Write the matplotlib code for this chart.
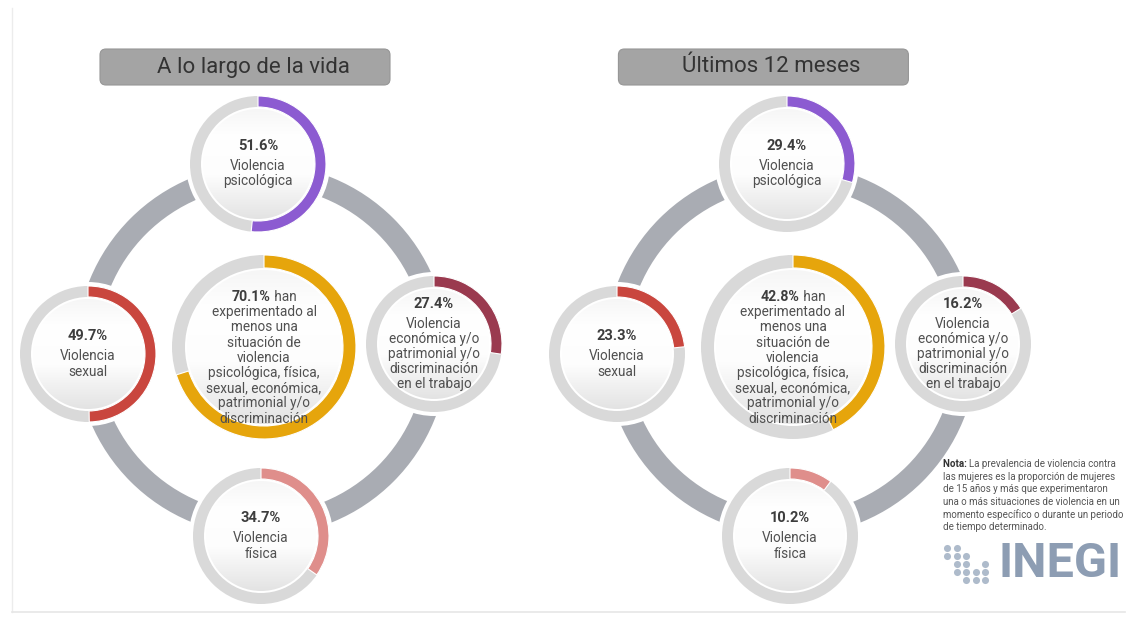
import numpy as np
import matplotlib.pyplot as plt
from matplotlib.patches import Wedge, Circle, FancyBboxPatch
from matplotlib.colors import LinearSegmentedColormap

plt.rcParams['font.family'] = ['Roboto', 'DejaVu Sans']

# datos
titulos = ["A lo largo de la vida", "Últimos 12 meses"]
categorias = ["Violencia\npsicológica", "Violencia\nsexual",
              "Violencia\neconómica y/o\npatrimonial y/o\ndiscriminación\nen el trabajo",
              "Violencia\nfísica"]
vida = [51.6, 49.7, 27.4, 34.7]
meses = [29.4, 23.3, 16.2, 10.2]
total_vida = 70.1
total_meses = 42.8
texto_total = ["experimentado al", "menos una", "situación de", "violencia",
               "psicológica, física,", "sexual, económica,", "patrimonial y/o",
               "discriminación"]
colores = ["#8c5bd1", "#c9463e", "#9a3a4f", "#df8e8b"]
color_total = "#e6a50c"
nota = ["La prevalencia de violencia contra",
        "las mujeres es la proporción de mujeres",
        "de 15 años y más que experimentaron",
        "una o más situaciones de violencia en un",
        "momento específico o durante un periodo",
        "de tiempo determinado."]

# posiciones (pixeles)
pos = [(258, 164), (88, 354), (434, 344), (261, 536)]
centro = (264, 347)
dx_panel = [0, 529]
r_chico, w_chico = 68, 11
r_grande, w_grande = 92, 13

fig = plt.figure(figsize=(11.3, 6.21), dpi=100)
ax = fig.add_axes([0, 0, 1, 1])
ax.set_xlim(0, 1130)
ax.set_ylim(621, 0)
ax.axis('off')

cmap_disco = LinearSegmentedColormap.from_list(
    'd', [(0, '#f6f6f6'), (0.25, '#ffffff'), (0.6, '#fdfdfd'), (1, '#e3e3e3')])
grad = np.linspace(0, 1, 256)[:, None]


def dona(cx, cy, r, w, pct, color):
    ax.add_patch(Circle((cx, cy), r + 4, fc='white', ec='none', zorder=3))
    ri = r - w - 2
    im = ax.imshow(grad, cmap=cmap_disco, extent=(cx - ri, cx + ri, cy + ri, cy - ri),
                   origin='upper', aspect='auto', zorder=4)
    im.set_clip_path(Circle((cx, cy), ri, transform=ax.transData))
    ax.add_patch(Wedge((cx, cy), r, 0, 360, width=w, fc='#d9d9d9', ec='none', zorder=5))
    ax.add_patch(Wedge((cx, cy), r, -90, -90 + 3.6 * pct, width=w, fc=color,
                       ec='white', lw=0.8, zorder=6))


renderer = fig.canvas.get_renderer()


def ancho(txt, **kw):
    t = ax.text(0, 0, txt, **kw)
    bb = t.get_window_extent(renderer)
    t.remove()
    return bb.width


for k, (titulo, valores, total) in enumerate(zip(titulos, [vida, meses],
                                                  [total_vida, total_meses])):
    ox = dx_panel[k]
    # anillo gris que conecta
    ccx, ccy = centro[0] - 2 + ox, centro[1] + 3
    ax.add_patch(Wedge((ccx, ccy), 186, 0, 360, width=22, fc='#a9acb3', ec='none', zorder=1))

    # titulo
    bx0 = 100 + ox * 0.98
    ax.add_patch(FancyBboxPatch((bx0, 49), 290, 36, boxstyle='round,pad=0,rounding_size=6',
                                fc='#a4a4a4', ec='#969696', lw=0.8, zorder=2))
    ax.text(bx0 + 153, 67, titulo, ha='center', va='center', fontsize=16,
            color='#333333', zorder=3)

    # donas de categorias
    for (px, py), v, lab, col in zip(pos, valores, categorias, colores):
        cx = px + ox
        dona(cx, py, r_chico, w_chico, v, col)
        n = lab.count('\n') + 1
        alto = 20 + 15 * (n - 1)
        y0 = py - alto / 2
        ax.text(cx, y0, f"{v}%", ha='center', va='center', fontsize=10.5,
                fontweight='bold', color='#3d3d3d', zorder=8)
        for i, linea in enumerate(lab.split('\n')):
            ax.text(cx, y0 + 20 + 15 * i, linea, ha='center', va='center',
                    fontsize=9.8, color='#505050', zorder=8)

    # dona central
    cx, cy = centro[0] + ox, centro[1]
    dona(cx, cy, r_grande, w_grande, total, color_total)
    y0 = cy - 50
    s1 = f"{total}%"
    s2 = " han"
    w1 = ancho(s1, fontsize=10.2, fontweight='bold')
    w2 = ancho(s2, fontsize=9.8)
    x0 = cx + (w1 - w2) / 2
    ax.text(x0, y0, s1, ha='right', va='center', fontsize=10.2, fontweight='bold',
            color='#3d3d3d', zorder=8)
    ax.text(x0, y0, s2, ha='left', va='center', fontsize=9.8, color='#505050', zorder=8)
    for i, linea in enumerate(texto_total):
        ax.text(cx, y0 + 15.2 * (i + 1), linea, ha='center', va='center',
                fontsize=9.8, color='#505050', zorder=8)

# nota
nx, ny = 943, 464
wn = ancho("Nota: ", fontsize=7, fontweight='bold')
ax.text(nx, ny, "Nota: ", ha='left', va='center', fontsize=7, fontweight='bold',
        color='#333333', zorder=8)
for i, linea in enumerate(nota):
    ax.text(nx + (wn if i == 0 else 0), ny + 12.6 * i, linea, ha='left', va='center',
            fontsize=7, color='#555555', zorder=8)

# logo INEGI
puntos_x = [0, 0, 1, 1, 1, 1, 2, 2, 2, 2, 3, 3, 4, 4, 4]
puntos_y = [0, 1, 0, 1, 2, 3, 1, 2, 3, 4, 3, 4, 2, 3, 4]
ax.scatter([947 + 9.5 * a for a in puntos_x], [548 + 8 * b for b in puntos_y],
           s=26, color='#aebbcb', zorder=8, linewidths=0)
ax.text(999, 564, "INEGI", ha='left', va='center', fontsize=35, fontweight='bold',
        color='#8d9db3', zorder=8)

# marco
ax.plot([12, 12], [8, 612], color='#ececec', lw=1, zorder=0)
ax.plot([12, 1125], [612, 612], color='#e6e6e6', lw=1.2, zorder=0)

fig.savefig('out.png', dpi=100)
